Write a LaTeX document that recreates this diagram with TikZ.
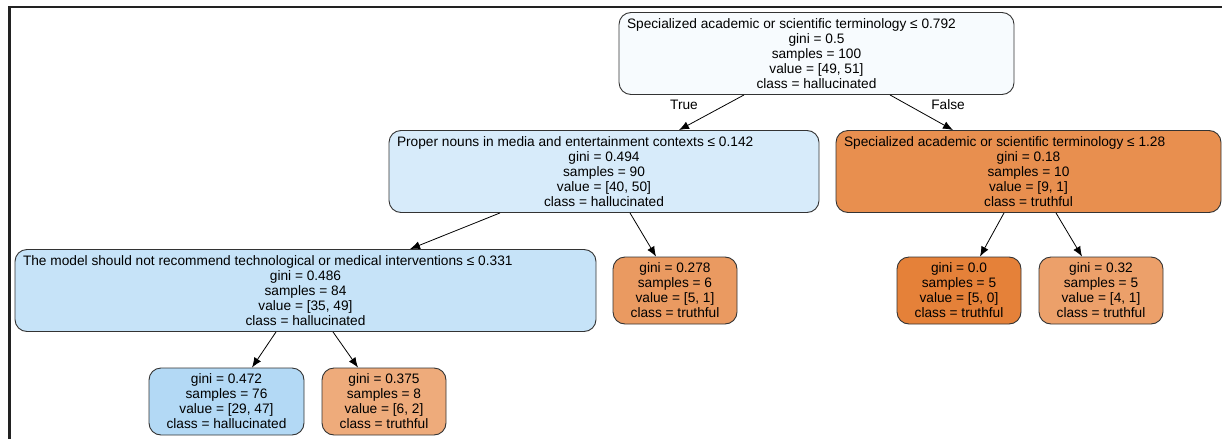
\documentclass[tikz,border=0pt]{standalone}
\usepackage{fontspec}
\setmainfont{Liberation Sans}
\usetikzlibrary{arrows.meta,positioning}

\definecolor{fillroot}{RGB}{247,251,254}
\definecolor{fillpn}{RGB}{215,235,250}
\definecolor{fillsat}{RGB}{232,143,79}
\definecolor{fillmod}{RGB}{198,227,248}
\definecolor{fillsix}{RGB}{234,154,97}
\definecolor{fillpure}{RGB}{229,129,57}
\definecolor{fillfour}{RGB}{236,160,106}
\definecolor{fillhal}{RGB}{179,217,245}
\definecolor{filleight}{RGB}{238,171,123}
\definecolor{framecol}{RGB}{34,34,34}

% first line of a split node, flush left
\newcommand{\firstln}[2]{\makebox[#1][l]{#2}}

\begin{document}
\begin{tikzpicture}[x=1pt,y=-1pt,
    treebox/.style={draw=black!80, line width=0.9pt, rounded corners=12pt, align=center, inner sep=0pt, font=\fontsize{13.7}{15}\selectfont},
    splitbox/.style={treebox, minimum height=82pt},
    leafbox/.style={treebox, minimum width=124pt, minimum height=67pt},
    branch/.style={-{Latex[length=10pt,width=8pt]}, line width=0.8pt},
    lbl/.style={font=\fontsize{13.7}{15}\selectfont}]
        \useasboundingbox (0,0) rectangle (1222,439);
        \draw[line width=2.6pt, framecol] (1222,7) -- (9.5,7) -- (9.5,439);
        % splits
        \node[splitbox, fill=fillroot, minimum width=395pt] at (816.5,53.5) (root) {\firstln{379pt}{Specialized academic or scientific terminology ≤ 0.792}\\gini = 0.5\\samples = 100\\value = [49, 51]\\class = hallucinated};
        \node[splitbox, fill=fillpn, minimum width=430pt] at (604,171.5) (nouns) {\firstln{414pt}{Proper nouns in media and entertainment contexts ≤ 0.142}\\gini = 0.494\\samples = 90\\value = [40, 50]\\class = hallucinated};
        \node[splitbox, fill=fillsat, minimum width=385pt] at (1028.5,171.5) (terms) {\firstln{369pt}{Specialized academic or scientific terminology ≤ 1.28}\\gini = 0.18\\samples = 10\\value = [9, 1]\\class = truthful};
        \node[splitbox, fill=fillmod, minimum width=581pt] at (305.5,290.5) (interv) {\firstln{565pt}{The model should not recommend technological or medical interventions ≤ 0.331}\\gini = 0.486\\samples = 84\\value = [35, 49]\\class = hallucinated};
        % leaves
        \node[leafbox, fill=fillsix] at (675,290.5) (leafsix) {gini = 0.278\\samples = 6\\value = [5, 1]\\class = truthful};
        \node[leafbox, fill=fillpure] at (959,290.5) (leafpure) {gini = 0.0\\samples = 5\\value = [5, 0]\\class = truthful};
        \node[leafbox, fill=fillfour] at (1101,290.5) (leaffour) {gini = 0.32\\samples = 5\\value = [4, 1]\\class = truthful};
        \node[leafbox, fill=fillhal, minimum width=155pt] at (226.5,401.5) (leafhal) {gini = 0.472\\samples = 76\\value = [29, 47]\\class = hallucinated};
        \node[leafbox, fill=filleight] at (384,401.5) (leafeight) {gini = 0.375\\samples = 8\\value = [6, 2]\\class = truthful};
        \node[lbl] at (684,105) (truelbl) {True};
        \node[lbl] at (948,105) (falselbl) {False};
        \draw[branch] ([xshift=-72.5pt]root.south) -- ([xshift=75pt]nouns.north);
        \draw[branch] ([xshift=73.5pt]root.south) -- ([xshift=-75.5pt]terms.north);
        \draw[branch] ([xshift=-104pt]nouns.south) -- ([xshift=104.5pt]interv.north);
        \draw[branch] ([xshift=26pt]nouns.south) -- ([xshift=-19pt]leafsix.north);
        \draw[branch] ([xshift=-24.5pt]terms.south) -- ([xshift=21pt]leafpure.north);
        \draw[branch] ([xshift=27.5pt]terms.south) -- ([xshift=-19pt]leaffour.north);
        \draw[branch] ([xshift=-29.5pt]interv.south) -- ([xshift=25.5pt]leafhal.north);
        \draw[branch] ([xshift=27.5pt]interv.south) -- ([xshift=-26pt]leafeight.north);
      \end{tikzpicture}
\end{document}
